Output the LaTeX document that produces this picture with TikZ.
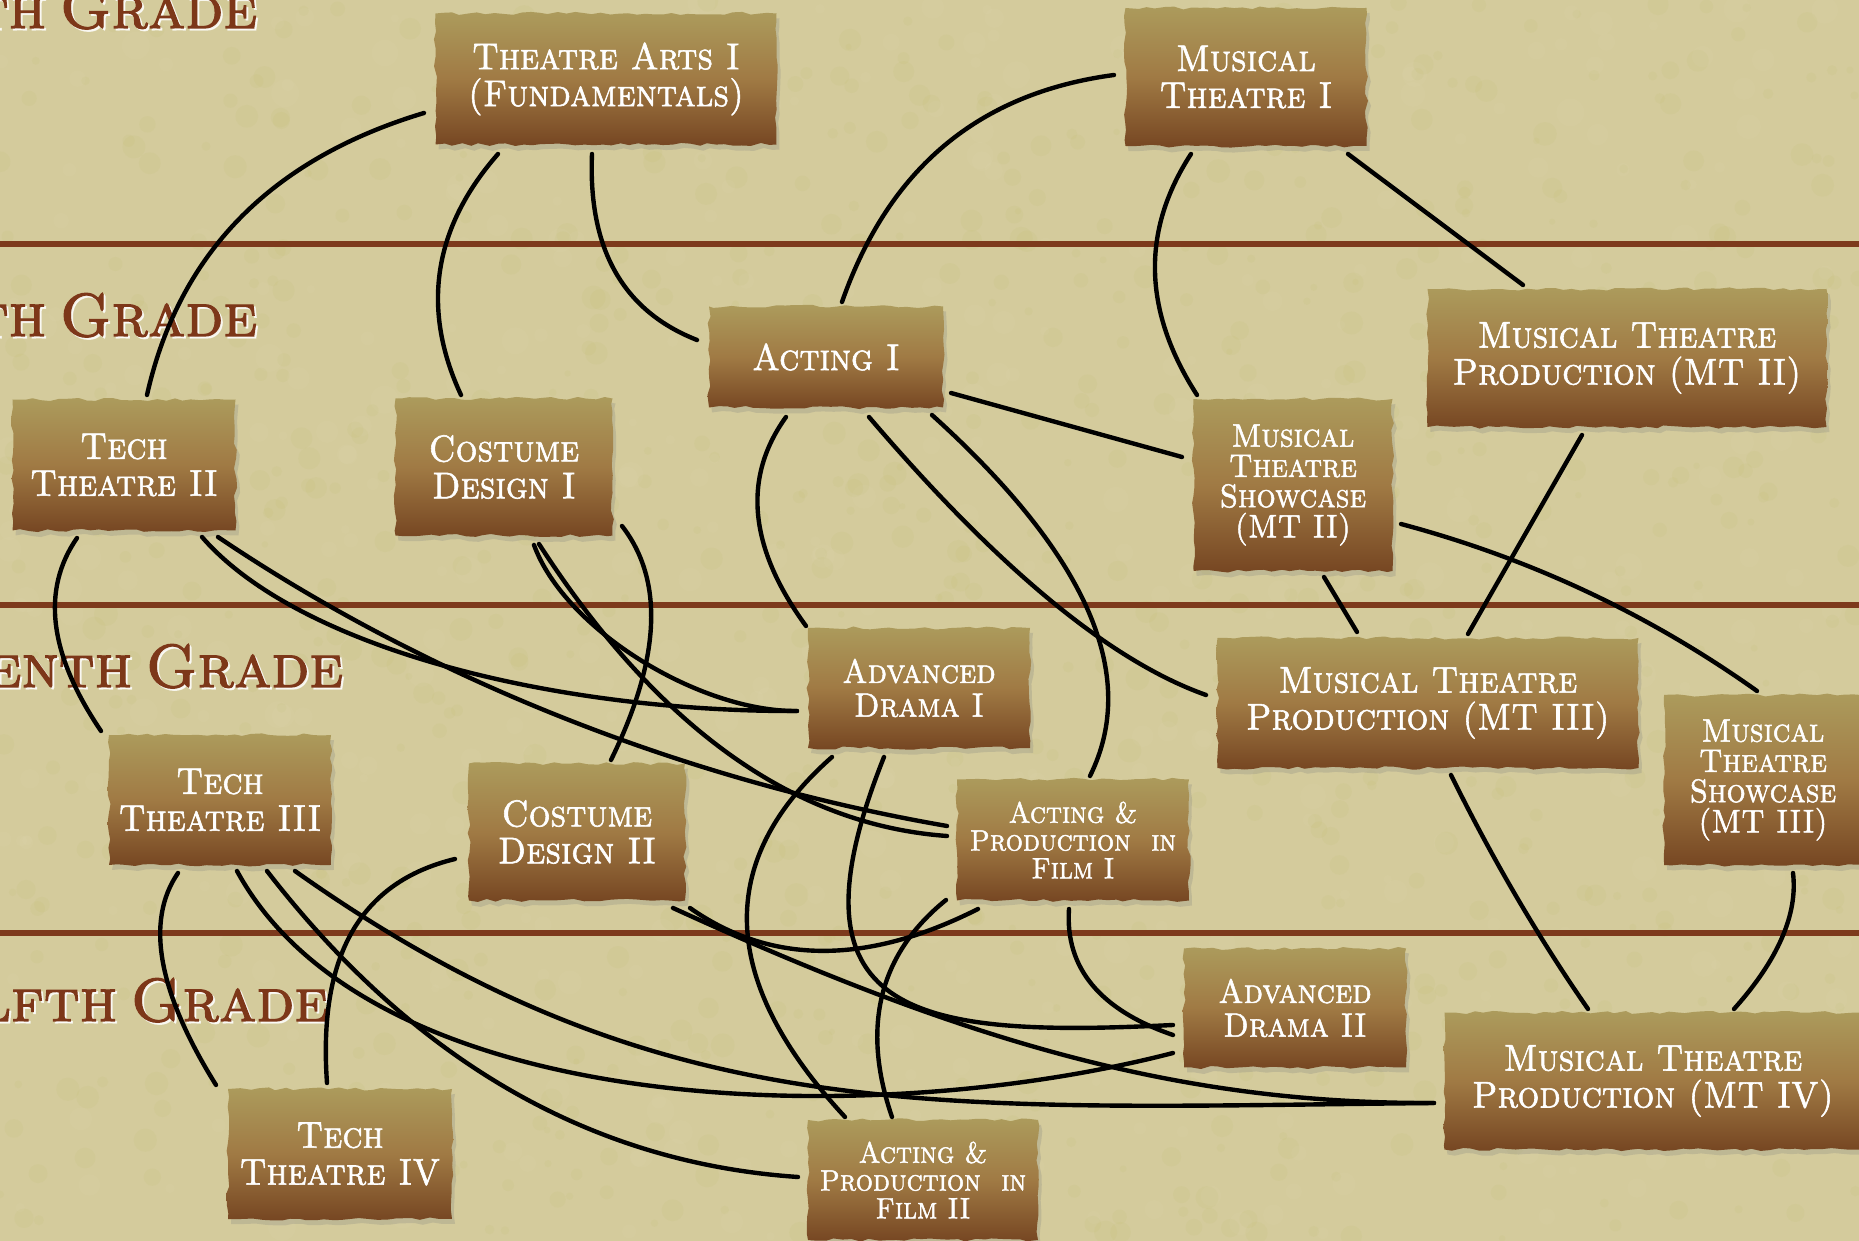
\documentclass[tikz,border=0pt]{standalone}
\usepackage{fontspec}
\usetikzlibrary{calc,shadows,decorations.pathmorphing}
\newfontfamily\capsfont{lmromancaps10-regular.otf}[FakeBold=1.5, FakeStretch=0.92]
\newfontfamily\gradefont{lmromancaps10-regular.otf}[FakeBold=2, WordSpace=0.6]
\definecolor{paper}{RGB}{212,203,156}
\definecolor{spotgreen}{RGB}{190,190,100}
\definecolor{spotlight}{RGB}{226,218,180}
\definecolor{rulec}{RGB}{125,58,28}
\definecolor{gradec}{RGB}{125,55,25}
\definecolor{boxtop}{RGB}{172,155,92}
\definecolor{boxmid}{RGB}{160,122,68}
\definecolor{boxbot}{RGB}{118,70,34}
\pgfmathsetseed{7}
\tikzset{
  box/.style={rectangle, inner sep=0pt, text=white, align=center,
    top color=boxtop, bottom color=boxbot, middle color=boxmid,
    decorate, decoration={random steps, segment length=2.5pt, amplitude=0.45pt},
    drop shadow={shadow xshift=0.3mm, shadow yshift=-0.5mm, opacity=0.25}},
  fbig/.style={font=\capsfont\fontsize{10.6}{10.5}\selectfont},
  fmid/.style={font=\capsfont\fontsize{9.6}{9.6}\selectfont},
  fshow/.style={font=\capsfont\fontsize{9.3}{8.6}\selectfont},
  ffilm/.style={font=\capsfont\fontsize{8.4}{7.9}\selectfont},
  conn/.style={line width=1.25pt, black, line cap=round},
  graderule/.style={line width=1.45pt, rulec},
  gradelabel/.style={anchor=base east, inner sep=0pt, text=gradec,
    font=\gradefont\fontsize{17.3}{18}\selectfont},
  gradeglow/.style={anchor=base east, inner sep=0pt, text=white, opacity=0.75,
    font=\gradefont\fontsize{17.3}{18}\selectfont},
}
\begin{document}
\begin{tikzpicture}[x=0.1mm, y=-0.1mm]
\useasboundingbox (0,0) rectangle (1859,1241);
\fill[paper] (0,0) rectangle (1859,1241);
% faint paper mottling
\begin{scope}
\clip (0,0) rectangle (1859,1241);
\foreach \i in {1,...,900}{
  \pgfmathsetmacro\px{rnd*1859}
  \pgfmathsetmacro\py{rnd*1241}
  \pgfmathsetmacro\pr{3+rnd*9}
  \fill[spotgreen, opacity=0.10] (\px,\py) circle[radius=\pr];
}
\foreach \i in {1,...,500}{
  \pgfmathsetmacro\px{rnd*1859}
  \pgfmathsetmacro\py{rnd*1241}
  \pgfmathsetmacro\pr{4+rnd*10}
  \fill[spotlight, opacity=0.10] (\px,\py) circle[radius=\pr];
}
\end{scope}

% grade rules
\draw[graderule] (0,244) -- (1859,244);
\draw[graderule] (0,605) -- (1859,605);
\draw[graderule] (0,933) -- (1859,933);

% grade labels
\node[gradeglow] (g9s) at (260,30) {th Grade};
\node[gradelabel] (g9) at (258,28) {th Grade};
\node[gradeglow] (g10s) at (260,338) {th Grade};
\node[gradelabel] (g10) at (258,336) {th Grade};
\node[gradeglow] (g11s) at (346,689) {enth Grade};
\node[gradelabel] (g11) at (344,687) {enth Grade};
\node[gradeglow] (g12s) at (331,1023) {lfth Grade};
\node[gradelabel] (g12) at (329,1021) {lfth Grade};

% course boxes
\node[box, fbig, minimum width=34.1mm, minimum height=13.1mm] (ta) at (606,79) {Theatre Arts I\\(Fundamentals)};
\node[box, fbig, minimum width=24.1mm, minimum height=13.8mm] (mt1) at (1246,77) {Musical\\Theatre I};
\node[box, fbig, minimum width=23.4mm, minimum height=10.1mm] (act1) at (826,357) {Acting I};
\node[box, fbig, minimum width=39.9mm, minimum height=13.8mm] (mtp2) at (1627,358) {Musical Theatre\\Production (MT II)};
\node[box, fbig, minimum width=22.3mm, minimum height=13.1mm] (tt2) at (124,465) {Tech\\Theatre II};
\node[box, fbig, minimum width=21.7mm, minimum height=13.7mm] (cd1) at (504,467) {Costume\\Design I};
\node[box, fshow, minimum width=19.9mm, minimum height=17.2mm] (mts2) at (1293,485) {Musical\\Theatre\\Showcase\\(MT II)};
\node[box, fmid, minimum width=22.2mm, minimum height=12.0mm] (ad1) at (919,688) {Advanced\\Drama I};
\node[box, fbig, minimum width=42.1mm, minimum height=13.0mm] (mtp3) at (1428,703) {Musical Theatre\\Production (MT III)};
\node[box, fshow, minimum width=19.8mm, minimum height=17.0mm] (mts3) at (1763,780) {Musical\\Theatre\\Showcase\\(MT III)};
\node[box, fbig, minimum width=22.2mm, minimum height=13.0mm] (tt3) at (220,800) {Tech\\Theatre III};
\node[box, fbig, minimum width=21.6mm, minimum height=13.7mm] (cd2) at (577,832) {Costume\\Design II};
\node[box, ffilm, minimum width=23.2mm, minimum height=12.1mm] (af1) at (1073,840) {Acting \&\\Production~ in\\Film I};
\node[box, fmid, minimum width=22.2mm, minimum height=11.9mm] (ad2) at (1295,1008) {Advanced\\Drama II};
\node[box, fbig, minimum width=41.7mm, minimum height=13.7mm] (mtp4) at (1653,1081) {Musical Theatre\\Production (MT IV)};
\node[box, fbig, minimum width=22.4mm, minimum height=13.0mm] (tt4) at (340,1154) {Tech\\Theatre IV};
\node[box, ffilm, minimum width=23.0mm, minimum height=12.0mm] (af2) at (923,1180) {Acting \&\\Production~ in\\Film II};

% connectors
\draw[conn] ($(ta)+(-182,34)$) .. controls (271,159) and (179,253) .. ($(tt2)+(23,-70)$);
\draw[conn] ($(ta)+(-108,75)$) .. controls (433,228) and (421,309) .. ($(cd1)+(-43,-72)$);
\draw[conn] ($(ta)+(-14,75)$) .. controls (588,249) and (623,311) .. ($(act1)+(-129,-17)$);
\draw[conn] ($(mt1)+(-132,-2)$) .. controls (979,93) and (889,168) .. ($(act1)+(16,-55)$);
\draw[conn] ($(mt1)+(-55,77)$) .. controls (1141,231) and (1143,311) .. ($(mts2)+(-96,-90)$);
\draw[conn] ($(mt1)+(102,77)$) -- ($(mtp2)+(-104,-73)$);
\draw[conn] ($(act1)+(125,36)$) -- ($(mts2)+(-111,-28)$);
\draw[conn] ($(act1)+(-40,60)$) .. controls (742,478) and (749,548) .. ($(ad1)+(-113,-62)$);
\draw[conn] ($(act1)+(43,60)$) .. controls (998,568) and (1110,661) .. ($(mtp3)+(-222,-8)$);
\draw[conn] ($(act1)+(106,58)$) .. controls (1087,555) and (1140,675) .. ($(af1)+(17,-64)$);
\draw[conn] ($(mts2)+(31,92)$) -- ($(mtp3)+(-71,-71)$);
\draw[conn] ($(mtp2)+(-45,77)$) -- ($(mtp3)+(40,-69)$);
\draw[conn] ($(mts2)+(108,39)$) .. controls (1532,559) and (1650,615) .. ($(mts3)+(-6,-89)$);
\draw[conn] ($(tt2)+(-47,73)$) .. controls (41,590) and (49,654) .. ($(tt3)+(-119,-69)$);
\draw[conn] ($(tt2)+(78,72)$) .. controls (300,650) and (560,712) .. ($(ad1)+(-122,23)$);
\draw[conn] ($(tt2)+(94,72)$) .. controls (430,680) and (687,781) .. ($(af1)+(-126,-14)$);
\draw[conn] ($(cd1)+(30,78)$) .. controls (565,630) and (700,712) .. ($(ad1)+(-122,23)$);
\draw[conn] ($(cd1)+(35,77)$) .. controls (658,728) and (794,825) .. ($(af1)+(-126,-4)$);
\draw[conn] ($(cd1)+(118,59)$) .. controls (664,580) and (661,658) .. ($(cd2)+(34,-72)$);
\draw[conn] ($(tt3)+(-42,73)$) .. controls (145,921) and (158,992) .. ($(tt4)+(-124,-69)$);
\draw[conn] ($(tt3)+(47,71)$) .. controls (414,1061) and (591,1163) .. ($(af2)+(-125,-3)$);
\draw[conn] ($(tt3)+(17,71)$) .. controls (371,1117) and (863,1133) .. ($(ad2)+(-122,45)$);
\draw[conn] ($(tt3)+(75,71)$) .. controls (662,1131) and (934,1108) .. ($(mtp4)+(-219,22)$);
\draw[conn] ($(cd2)+(-122,27)$) .. controls (360,882) and (318,956) .. ($(tt4)+(-13,-71)$);
\draw[conn] ($(cd2)+(113,76)$) .. controls (771,965) and (867,965) .. ($(af1)+(-95,69)$);
\draw[conn] ($(cd2)+(96,76)$) .. controls (973,1045) and (1184,1104) .. ($(mtp4)+(-219,22)$);
\draw[conn] ($(ad1)+(-87,69)$) .. controls (714,861) and (719,981) .. ($(af2)+(-78,-63)$);
\draw[conn] ($(ad1)+(-35,69)$) .. controls (780,1017) and (913,1038) .. ($(ad2)+(-122,17)$);
\draw[conn] ($(af1)+(-127,60)$) .. controls (879,954) and (861,1027) .. ($(af2)+(-31,-63)$);
\draw[conn] ($(af1)+(-4,69)$) .. controls (1065,968) and (1100,1010) .. ($(ad2)+(-122,27)$);
\draw[conn] ($(mtp3)+(23,72)$) .. controls (1491,856) and (1536,934) .. ($(mtp4)+(-65,-72)$);
\draw[conn] ($(mts3)+(30,93)$) .. controls (1798,914) and (1778,960) .. ($(mtp4)+(81,-72)$);
\end{tikzpicture}
\end{document}
